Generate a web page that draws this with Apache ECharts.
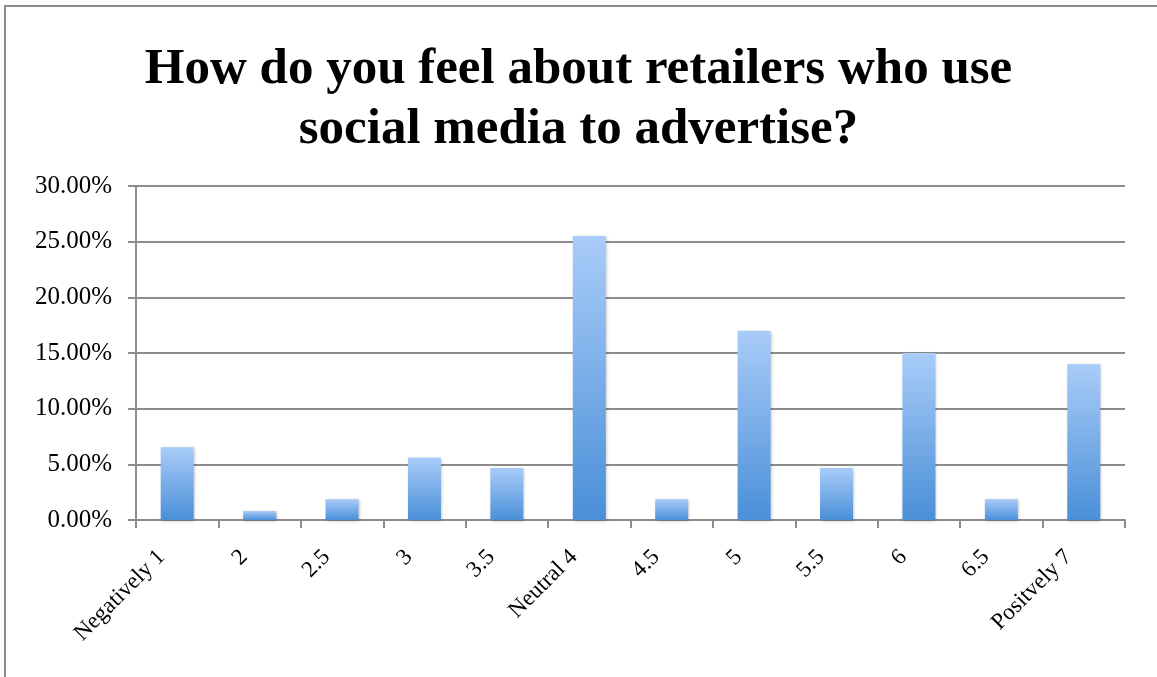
<!DOCTYPE html>
<html><head><meta charset="utf-8">
<script src="https://cdn.jsdelivr.net/npm/echarts@6/dist/echarts.min.js"></script>
<style>html,body{margin:0;padding:0;background:#fff}#c{width:1157px;height:677px}</style>
</head><body><div id="c"></div>
<script>
var categories = ['Negatively 1','2','2.5','3','3.5','Neutral 4','4.5','5','5.5','6','6.5','Positvely 7'];
var values = [6.54, 0.8, 1.87, 5.61, 4.67, 25.5, 1.87, 17.0, 4.67, 15.0, 1.87, 14.0];
var yTicks = {min: 0, max: 30, interval: 5};
var titleText = 'How do you feel about retailers who use\nsocial media to advertise?';

var chart = echarts.init(document.getElementById('c'));
var serif = '"Liberation Serif", "DejaVu Serif", serif';
chart.setOption({
  animation: false,
  backgroundColor: '#fff',
  graphic: [{type:'rect', shape:{x:5,y:6,width:1160,height:700}, style:{fill:'none', stroke:'#8a8a8a', lineWidth:2}, silent:true}],
  title: {text: titleText, left: 'center', top: 35, textStyle:{fontFamily: serif, fontWeight:'bold', fontSize:51, lineHeight:60, color:'#000'}},
  grid: {left:136, right:32, top:186, bottom:157},
  xAxis: {type:'category', data: categories, boundaryGap:true,
    axisLine:{lineStyle:{color:'#8c8c8c', width:2}},
    axisTick:{show:true, length:8, lineStyle:{color:'#8c8c8c', width:2}},
    axisLabel:{rotate:45, interval:0, fontFamily: serif, fontSize:23, color:'#000', margin:18, padding:[0,22,0,0]}},
  yAxis: {type:'value', min:yTicks.min, max:yTicks.max, interval:yTicks.interval,
    axisLine:{show:true, lineStyle:{color:'#8c8c8c', width:2}},
    axisTick:{show:true, length:8, lineStyle:{color:'#8c8c8c', width:2}},
    splitLine:{lineStyle:{color:'#8c8c8c', width:2}},
    axisLabel:{formatter: function(v){return v.toFixed(2)+'%';}, fontFamily: serif, fontSize:25, color:'#000', margin:24}},
  series: [{type:'bar', data: values, barWidth:33,
    itemStyle:{color: new echarts.graphic.LinearGradient(0,0,0,1,[{offset:0,color:'#a9ccf8'},{offset:1,color:'#4a8fd8'}]),
      shadowColor:'rgba(0,0,0,0.25)', shadowBlur:3, shadowOffsetX:1, shadowOffsetY:1}}]
});
</script></body></html>
